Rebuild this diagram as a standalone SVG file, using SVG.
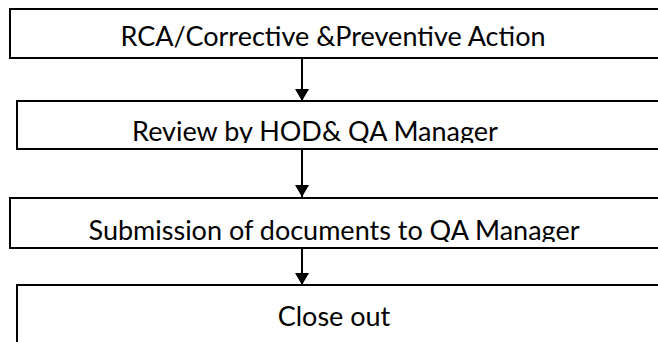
<svg xmlns="http://www.w3.org/2000/svg" width="658" height="342" viewBox="0 0 658 342">
<style>
.box{fill:#fff;stroke:#000;stroke-width:2}
.lbl{font-family:Lato,"Open Sans",sans-serif;font-size:27px;fill:#000;text-anchor:middle}
.conn{stroke:#000;stroke-width:2;fill:none}
</style>
<defs>
<marker id="ah" viewBox="0 0 12 14" refX="12" refY="7" markerWidth="12" markerHeight="14" markerUnits="userSpaceOnUse" orient="auto">
<path d="M0,0 L12,7 L0,14 Z" fill="#000"/>
</marker>
<clipPath id="c2"><rect x="0" y="100" width="658" height="43"/></clipPath>
<clipPath id="c3"><rect x="0" y="197" width="658" height="45"/></clipPath>
</defs>
<rect width="658" height="342" fill="#fff"/>
<g id="n1"><rect class="box" x="10" y="9" width="680" height="49"/><text class="lbl" x="333" y="46">RCA/Corrective &amp;Preventive Action</text></g>
<g id="n2"><rect class="box" x="17" y="101" width="680" height="48"/><text class="lbl" x="315" y="141" clip-path="url(#c2)">Review by HOD&amp; QA Manager</text></g>
<g id="n3"><rect class="box" x="10" y="198" width="680" height="50"/><text class="lbl" x="334" y="240" clip-path="url(#c3)">Submission of documents to QA Manager</text></g>
<g id="n4"><rect class="box" x="17" y="285" width="680" height="80"/><text class="lbl" x="334" y="326">Close out</text></g>
<g id="connectors">
<line class="conn" x1="302" y1="58" x2="302" y2="101" marker-end="url(#ah)"/>
<line class="conn" x1="302" y1="149" x2="302" y2="197" marker-end="url(#ah)"/>
<line class="conn" x1="302" y1="248" x2="302" y2="285" marker-end="url(#ah)"/>
</g>
</svg>
